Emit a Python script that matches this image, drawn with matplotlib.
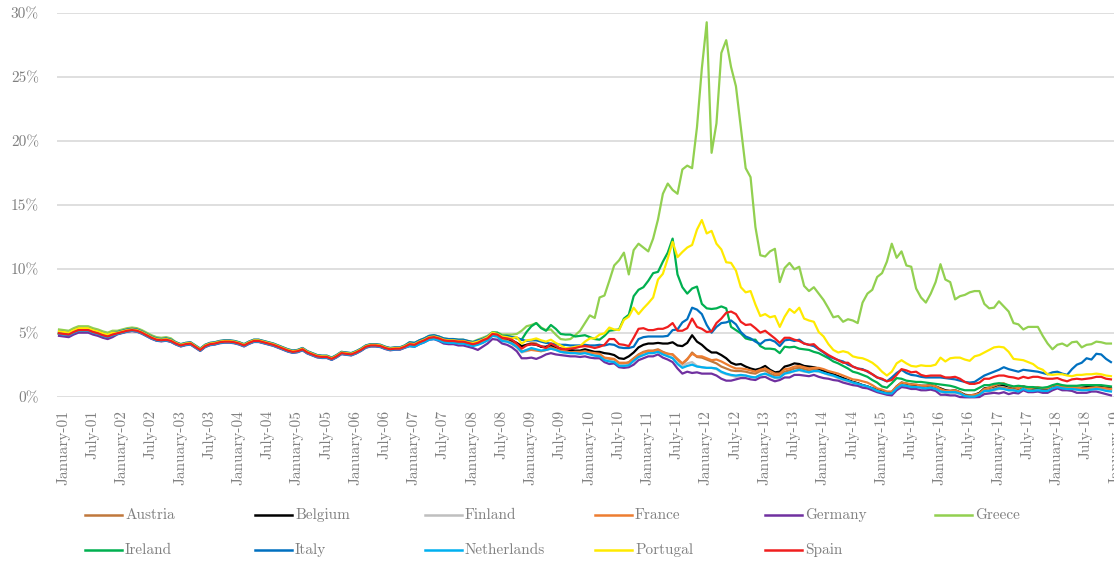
import matplotlib
matplotlib.use("Agg")
import matplotlib.pyplot as plt
from matplotlib.lines import Line2D
from matplotlib.ticker import FuncFormatter
from matplotlib.transforms import ScaledTranslation

plt.rcParams['font.family'] = ['cmr10', 'DejaVu Serif']
plt.rcParams['mathtext.fontset'] = 'cm'
plt.rcParams['axes.formatter.use_mathtext'] = True

# 10-year government bond yields, %, monthly from January 2001 (one row per year)
austria = [
    5.00, 4.95, 4.90, 5.10, 5.25, 5.25, 5.25, 5.10, 5.00, 4.85, 4.75, 4.90,
    5.00, 5.10, 5.20, 5.25, 5.20, 5.05, 4.85, 4.65, 4.50, 4.45, 4.50, 4.40,
    4.20, 4.05, 4.15, 4.20, 3.95, 3.70, 4.00, 4.15, 4.20, 4.30, 4.35, 4.35,
    4.30, 4.20, 4.05, 4.25, 4.40, 4.40, 4.30, 4.20, 4.10, 3.95, 3.80, 3.65,
    3.55, 3.60, 3.75, 3.50, 3.35, 3.20, 3.15, 3.15, 3.00, 3.20, 3.45, 3.40,
    3.35, 3.50, 3.70, 3.95, 4.05, 4.05, 4.00, 3.85, 3.75, 3.80, 3.80, 3.95,
    4.15, 4.10, 4.30, 4.45, 4.65, 4.70, 4.60, 4.45, 4.40, 4.40, 4.35, 4.35,
    4.25, 4.15, 4.25, 4.45, 4.60, 4.95, 4.90, 4.55, 4.50, 4.35, 4.15, 3.85,
    4.10, 4.25, 4.20, 3.95, 3.85, 3.95, 3.85, 3.75, 3.70, 3.60, 3.60, 3.55,
    3.60, 3.50, 3.40, 3.35, 3.05, 3.00, 2.95, 2.60, 2.60, 2.75, 3.05, 3.35,
    3.55, 3.65, 3.65, 3.75, 3.55, 3.40, 3.35, 2.95, 2.60, 2.95, 3.50, 3.15,
    3.10, 2.95, 2.80, 2.65, 2.40, 2.25, 2.10, 2.05, 2.05, 2.00, 1.90, 1.85,
    2.05, 2.10, 1.85, 1.70, 1.75, 2.00, 2.10, 2.25, 2.30, 2.20, 2.10, 2.15,
    2.10, 2.00, 1.85, 1.75, 1.60, 1.45, 1.30, 1.20, 1.10, 0.95, 0.85, 0.70,
    0.55, 0.40, 0.30, 0.30, 0.70, 1.00, 0.95, 0.85, 0.85, 0.80, 0.75, 0.80,
    0.70, 0.55, 0.40, 0.40, 0.45, 0.30, 0.10, 0.05, 0.10, 0.25, 0.55, 0.55,
    0.65, 0.80, 0.75, 0.65, 0.65, 0.55, 0.70, 0.60, 0.60, 0.65, 0.60, 0.55,
    0.75, 0.85, 0.70, 0.65, 0.70, 0.65, 0.65, 0.65, 0.70, 0.75, 0.70, 0.60,
    0.55,
]
belgium = [
    5.00, 4.95, 4.90, 5.10, 5.25, 5.25, 5.25, 5.10, 5.00, 4.85, 4.75, 4.90,
    5.00, 5.10, 5.20, 5.25, 5.20, 5.05, 4.85, 4.65, 4.50, 4.45, 4.50, 4.40,
    4.20, 4.05, 4.15, 4.20, 3.95, 3.70, 4.00, 4.15, 4.20, 4.30, 4.35, 4.35,
    4.30, 4.20, 4.05, 4.25, 4.40, 4.40, 4.30, 4.20, 4.10, 3.95, 3.80, 3.65,
    3.55, 3.60, 3.75, 3.50, 3.35, 3.20, 3.15, 3.15, 3.00, 3.20, 3.45, 3.40,
    3.35, 3.50, 3.70, 3.95, 4.05, 4.05, 4.00, 3.85, 3.75, 3.80, 3.80, 3.95,
    4.20, 4.15, 4.35, 4.50, 4.70, 4.75, 4.65, 4.50, 4.45, 4.45, 4.40, 4.40,
    4.30, 4.20, 4.30, 4.45, 4.65, 4.95, 4.90, 4.65, 4.60, 4.45, 4.25, 4.00,
    4.10, 4.15, 4.10, 3.95, 3.95, 4.10, 3.95, 3.80, 3.75, 3.70, 3.65, 3.65,
    3.75, 3.65, 3.55, 3.55, 3.45, 3.40, 3.30, 3.05, 3.00, 3.20, 3.50, 3.90,
    4.10, 4.20, 4.20, 4.25, 4.20, 4.20, 4.30, 4.05, 4.00, 4.25, 4.85, 4.35,
    4.10, 3.75, 3.50, 3.50, 3.30, 3.05, 2.70, 2.55, 2.60, 2.40, 2.25, 2.15,
    2.25, 2.45, 2.15, 1.95, 2.00, 2.40, 2.50, 2.65, 2.60, 2.45, 2.40, 2.35,
    2.25, 2.05, 1.95, 1.80, 1.65, 1.50, 1.35, 1.20, 1.10, 0.95, 0.85, 0.70,
    0.60, 0.50, 0.35, 0.40, 0.85, 1.15, 1.05, 1.00, 0.95, 0.90, 0.90, 0.95,
    0.85, 0.70, 0.55, 0.50, 0.55, 0.40, 0.20, 0.15, 0.20, 0.35, 0.70, 0.75,
    0.85, 1.00, 0.95, 0.85, 0.80, 0.70, 0.85, 0.75, 0.70, 0.70, 0.65, 0.60,
    0.80, 0.95, 0.85, 0.80, 0.80, 0.75, 0.75, 0.80, 0.80, 0.85, 0.80, 0.75,
    0.70,
]
finland = [
    4.95, 4.90, 4.85, 5.05, 5.20, 5.20, 5.20, 5.05, 4.95, 4.80, 4.70, 4.85,
    4.95, 5.05, 5.15, 5.20, 5.15, 5.00, 4.80, 4.60, 4.45, 4.40, 4.45, 4.35,
    4.15, 4.00, 4.10, 4.15, 3.90, 3.65, 3.95, 4.10, 4.15, 4.25, 4.30, 4.30,
    4.25, 4.15, 4.00, 4.20, 4.35, 4.35, 4.25, 4.15, 4.05, 3.90, 3.75, 3.60,
    3.50, 3.55, 3.70, 3.45, 3.30, 3.15, 3.10, 3.10, 2.95, 3.15, 3.40, 3.35,
    3.30, 3.45, 3.65, 3.90, 4.00, 4.00, 3.95, 3.80, 3.70, 3.75, 3.75, 3.90,
    4.05, 4.00, 4.20, 4.35, 4.55, 4.60, 4.50, 4.35, 4.30, 4.30, 4.25, 4.25,
    4.15, 4.05, 4.15, 4.25, 4.45, 4.80, 4.75, 4.40, 4.35, 4.15, 3.90, 3.50,
    3.60, 3.75, 3.70, 3.60, 3.70, 3.80, 3.70, 3.55, 3.45, 3.45, 3.45, 3.40,
    3.50, 3.40, 3.30, 3.30, 2.95, 2.85, 2.80, 2.50, 2.50, 2.55, 2.85, 3.15,
    3.30, 3.45, 3.45, 3.60, 3.40, 3.25, 3.10, 2.70, 2.45, 2.65, 2.75, 2.45,
    2.35, 2.30, 2.30, 2.20, 1.95, 1.80, 1.70, 1.60, 1.65, 1.70, 1.60, 1.55,
    1.75, 1.85, 1.65, 1.50, 1.55, 1.85, 1.90, 2.05, 2.10, 2.00, 1.95, 2.05,
    2.00, 1.90, 1.75, 1.65, 1.50, 1.35, 1.25, 1.15, 1.05, 0.90, 0.80, 0.65,
    0.50, 0.35, 0.25, 0.25, 0.65, 0.95, 0.90, 0.80, 0.80, 0.75, 0.70, 0.75,
    0.65, 0.45, 0.35, 0.35, 0.35, 0.25, 0.05, 0.02, 0.05, 0.15, 0.45, 0.45,
    0.55, 0.65, 0.65, 0.55, 0.55, 0.45, 0.65, 0.50, 0.50, 0.55, 0.50, 0.50,
    0.70, 0.80, 0.70, 0.65, 0.65, 0.60, 0.60, 0.60, 0.65, 0.70, 0.65, 0.55,
    0.50,
]
france = [
    4.95, 4.90, 4.85, 5.05, 5.20, 5.20, 5.20, 5.05, 4.95, 4.80, 4.70, 4.85,
    4.95, 5.05, 5.15, 5.20, 5.15, 5.00, 4.80, 4.60, 4.45, 4.40, 4.45, 4.35,
    4.15, 4.00, 4.10, 4.15, 3.90, 3.65, 3.95, 4.10, 4.15, 4.25, 4.30, 4.30,
    4.25, 4.15, 4.00, 4.20, 4.35, 4.35, 4.25, 4.15, 4.05, 3.90, 3.75, 3.60,
    3.50, 3.55, 3.70, 3.45, 3.30, 3.15, 3.10, 3.10, 2.95, 3.15, 3.40, 3.35,
    3.30, 3.45, 3.65, 3.90, 4.00, 4.00, 3.95, 3.80, 3.70, 3.75, 3.75, 3.90,
    4.10, 4.05, 4.25, 4.40, 4.60, 4.65, 4.55, 4.40, 4.35, 4.35, 4.30, 4.30,
    4.20, 4.10, 4.20, 4.30, 4.50, 4.85, 4.80, 4.45, 4.40, 4.20, 3.95, 3.60,
    3.65, 3.70, 3.65, 3.60, 3.70, 3.85, 3.75, 3.65, 3.60, 3.50, 3.55, 3.55,
    3.60, 3.50, 3.45, 3.40, 3.10, 3.05, 3.00, 2.70, 2.70, 2.70, 3.00, 3.30,
    3.50, 3.60, 3.60, 3.70, 3.50, 3.40, 3.35, 3.00, 2.65, 3.00, 3.40, 3.20,
    3.20, 3.05, 2.90, 2.95, 2.80, 2.60, 2.40, 2.25, 2.25, 2.20, 2.10, 2.00,
    2.15, 2.25, 2.05, 1.85, 1.85, 2.20, 2.25, 2.40, 2.45, 2.35, 2.25, 2.30,
    2.30, 2.20, 2.05, 1.95, 1.85, 1.70, 1.55, 1.40, 1.35, 1.25, 1.15, 0.95,
    0.70, 0.60, 0.45, 0.45, 0.85, 1.15, 1.10, 1.00, 1.00, 0.90, 0.90, 0.95,
    0.85, 0.65, 0.50, 0.50, 0.55, 0.40, 0.15, 0.15, 0.20, 0.30, 0.65, 0.75,
    0.90, 1.05, 1.10, 0.90, 0.80, 0.70, 0.85, 0.70, 0.75, 0.80, 0.70, 0.70,
    0.90, 0.95, 0.80, 0.80, 0.80, 0.75, 0.70, 0.70, 0.75, 0.80, 0.75, 0.70,
    0.65,
]
germany = [
    4.80, 4.75, 4.70, 4.90, 5.05, 5.05, 5.05, 4.90, 4.80, 4.65, 4.55, 4.70,
    4.92, 5.02, 5.12, 5.17, 5.12, 4.97, 4.77, 4.57, 4.42, 4.37, 4.42, 4.32,
    4.12, 3.97, 4.07, 4.12, 3.87, 3.62, 3.92, 4.07, 4.12, 4.22, 4.27, 4.27,
    4.22, 4.12, 3.97, 4.17, 4.32, 4.32, 4.22, 4.12, 4.02, 3.87, 3.72, 3.57,
    3.47, 3.52, 3.67, 3.42, 3.27, 3.12, 3.07, 3.07, 2.92, 3.12, 3.37, 3.32,
    3.27, 3.42, 3.62, 3.87, 3.97, 3.97, 3.92, 3.77, 3.67, 3.72, 3.72, 3.87,
    4.00, 3.95, 4.15, 4.30, 4.50, 4.55, 4.40, 4.20, 4.15, 4.15, 4.05, 4.05,
    3.95, 3.85, 3.70, 3.95, 4.20, 4.55, 4.50, 4.20, 4.10, 3.90, 3.60, 3.05,
    3.05, 3.10, 3.00, 3.15, 3.35, 3.45, 3.35, 3.30, 3.25, 3.20, 3.20, 3.15,
    3.20, 3.10, 3.05, 3.05, 2.75, 2.60, 2.65, 2.35, 2.30, 2.35, 2.55, 2.90,
    3.05, 3.20, 3.20, 3.35, 3.10, 2.95, 2.75, 2.25, 1.85, 2.00, 1.90, 1.95,
    1.85, 1.85, 1.85, 1.70, 1.45, 1.30, 1.30, 1.40, 1.50, 1.50, 1.40, 1.35,
    1.55, 1.60, 1.40, 1.25, 1.35, 1.55, 1.55, 1.75, 1.75, 1.70, 1.65, 1.75,
    1.60, 1.50, 1.45, 1.35, 1.30, 1.15, 1.05, 0.95, 0.90, 0.75, 0.70, 0.55,
    0.40, 0.30, 0.20, 0.15, 0.55, 0.80, 0.75, 0.65, 0.65, 0.55, 0.55, 0.60,
    0.50, 0.20, 0.20, 0.15, 0.15, 0.02, 0.00, 0.00, 0.00, 0.02, 0.25, 0.30,
    0.35, 0.30, 0.40, 0.25, 0.35, 0.30, 0.55, 0.40, 0.40, 0.45, 0.35, 0.35,
    0.55, 0.70, 0.55, 0.55, 0.50, 0.35, 0.35, 0.35, 0.45, 0.45, 0.35, 0.25,
    0.15,
]
greece = [
    5.30, 5.25, 5.20, 5.40, 5.55, 5.55, 5.55, 5.40, 5.30, 5.15, 5.05, 5.20,
    5.20, 5.30, 5.40, 5.45, 5.40, 5.25, 5.05, 4.85, 4.70, 4.65, 4.70, 4.60,
    4.30, 4.15, 4.25, 4.30, 4.05, 3.80, 4.10, 4.25, 4.30, 4.40, 4.45, 4.45,
    4.40, 4.30, 4.15, 4.35, 4.50, 4.50, 4.40, 4.30, 4.20, 4.05, 3.90, 3.75,
    3.65, 3.70, 3.85, 3.60, 3.45, 3.30, 3.25, 3.25, 3.10, 3.30, 3.55, 3.50,
    3.45, 3.60, 3.80, 4.05, 4.15, 4.15, 4.10, 3.95, 3.85, 3.90, 3.90, 4.05,
    4.30, 4.25, 4.45, 4.60, 4.80, 4.85, 4.75, 4.60, 4.55, 4.55, 4.50, 4.50,
    4.40, 4.35, 4.50, 4.65, 4.80, 5.10, 5.05, 4.90, 4.90, 4.90, 4.95, 5.20,
    5.55, 5.65, 5.80, 5.45, 5.25, 5.30, 4.90, 4.55, 4.50, 4.55, 4.85, 5.20,
    5.80, 6.40, 6.20, 7.80, 7.95, 9.10, 10.30, 10.70, 11.30, 9.60, 11.50, 12.00,
    11.70, 11.40, 12.40, 13.90, 15.90, 16.70, 16.20, 15.90, 17.80, 18.10, 17.90, 21.10,
    25.70, 29.30, 19.10, 21.40, 26.90, 27.90, 25.80, 24.30, 21.10, 17.90, 17.20, 13.30,
    11.10, 11.00, 11.40, 11.60, 9.00, 10.10, 10.50, 10.00, 10.20, 8.70, 8.30, 8.60,
    8.10, 7.60, 6.95, 6.25, 6.35, 5.90, 6.10, 6.00, 5.80, 7.40, 8.10, 8.40,
    9.40, 9.70, 10.60, 12.00, 10.90, 11.40, 10.30, 10.20, 8.50, 7.80, 7.40, 8.10,
    9.00, 10.40, 9.20, 9.00, 7.65, 7.90, 8.00, 8.20, 8.30, 8.30, 7.30, 6.95,
    7.00, 7.50, 7.10, 6.70, 5.80, 5.70, 5.30, 5.50, 5.50, 5.50, 4.80, 4.20,
    3.75, 4.10, 4.20, 4.00, 4.30, 4.35, 3.90, 4.10, 4.15, 4.35, 4.30, 4.20,
    4.20,
]
ireland = [
    5.00, 4.95, 4.90, 5.10, 5.25, 5.25, 5.25, 5.10, 5.00, 4.85, 4.75, 4.90,
    5.00, 5.10, 5.20, 5.25, 5.20, 5.05, 4.85, 4.65, 4.50, 4.45, 4.50, 4.40,
    4.20, 4.05, 4.15, 4.20, 3.95, 3.70, 4.00, 4.15, 4.20, 4.30, 4.35, 4.35,
    4.30, 4.20, 4.05, 4.25, 4.40, 4.40, 4.30, 4.20, 4.10, 3.95, 3.80, 3.65,
    3.55, 3.60, 3.75, 3.50, 3.35, 3.20, 3.15, 3.15, 3.00, 3.20, 3.45, 3.40,
    3.35, 3.50, 3.70, 3.95, 4.05, 4.05, 4.00, 3.85, 3.75, 3.80, 3.80, 3.95,
    4.15, 4.10, 4.30, 4.45, 4.65, 4.70, 4.60, 4.45, 4.40, 4.40, 4.35, 4.35,
    4.25, 4.15, 4.25, 4.55, 4.70, 5.05, 5.05, 4.80, 4.80, 4.70, 4.60, 4.50,
    5.10, 5.55, 5.80, 5.40, 5.20, 5.65, 5.35, 4.95, 4.90, 4.90, 4.75, 4.80,
    4.85, 4.70, 4.55, 4.50, 4.80, 5.20, 5.25, 5.30, 6.15, 6.45, 7.90, 8.40,
    8.60, 9.10, 9.70, 9.80, 10.60, 11.30, 12.40, 9.60, 8.60, 8.10, 8.50, 8.65,
    7.30, 6.95, 6.90, 6.95, 7.10, 6.95, 5.50, 5.25, 5.00, 4.60, 4.50, 4.50,
    4.00, 3.80, 3.80, 3.75, 3.45, 3.95, 3.90, 3.95, 3.80, 3.75, 3.70, 3.55,
    3.45, 3.25, 3.05, 2.80, 2.65, 2.45, 2.25, 2.00, 1.90, 1.75, 1.60, 1.35,
    1.15, 0.85, 0.75, 1.10, 1.50, 1.45, 1.30, 1.25, 1.20, 1.20, 1.15, 1.10,
    1.05, 1.00, 0.95, 0.90, 0.80, 0.65, 0.55, 0.55, 0.55, 0.75, 0.95, 0.95,
    1.05, 1.10, 1.05, 0.95, 0.85, 0.90, 0.85, 0.80, 0.80, 0.75, 0.75, 0.80,
    0.95, 1.05, 0.95, 0.90, 0.90, 0.90, 0.95, 0.95, 0.95, 0.95, 0.95, 0.90,
    0.85,
]
italy = [
    5.15, 5.10, 5.05, 5.25, 5.40, 5.40, 5.40, 5.25, 5.15, 5.00, 4.90, 5.05,
    5.10, 5.20, 5.30, 5.35, 5.30, 5.15, 4.95, 4.75, 4.60, 4.55, 4.60, 4.50,
    4.30, 4.15, 4.25, 4.30, 4.05, 3.80, 4.10, 4.25, 4.30, 4.40, 4.45, 4.45,
    4.40, 4.30, 4.15, 4.35, 4.50, 4.50, 4.40, 4.30, 4.20, 4.05, 3.90, 3.75,
    3.65, 3.70, 3.85, 3.60, 3.45, 3.30, 3.25, 3.25, 3.10, 3.30, 3.55, 3.50,
    3.45, 3.60, 3.80, 4.05, 4.15, 4.15, 4.10, 3.95, 3.85, 3.90, 3.90, 4.05,
    4.30, 4.25, 4.45, 4.60, 4.80, 4.85, 4.75, 4.60, 4.55, 4.55, 4.50, 4.50,
    4.40, 4.30, 4.45, 4.55, 4.75, 5.05, 4.95, 4.75, 4.75, 4.70, 4.65, 4.50,
    4.40, 4.45, 4.45, 4.35, 4.25, 4.20, 4.15, 4.10, 4.10, 4.05, 4.05, 4.05,
    4.10, 4.05, 4.05, 4.10, 4.05, 4.15, 4.10, 3.90, 3.85, 3.85, 3.95, 4.55,
    4.70, 4.75, 4.75, 4.75, 4.75, 4.80, 5.25, 5.30, 5.85, 6.10, 7.00, 6.85,
    6.50, 5.65, 5.05, 5.50, 5.80, 5.85, 6.00, 5.70, 5.10, 4.75, 4.60, 4.35,
    4.15, 4.45, 4.50, 4.35, 4.00, 4.45, 4.50, 4.40, 4.50, 4.20, 4.10, 4.00,
    3.75, 3.50, 3.20, 3.05, 2.90, 2.80, 2.55, 2.40, 2.25, 2.20, 2.00, 1.80,
    1.55, 1.40, 1.25, 1.55, 1.90, 2.15, 1.90, 1.75, 1.70, 1.60, 1.55, 1.55,
    1.55, 1.55, 1.50, 1.45, 1.40, 1.30, 1.20, 1.15, 1.20, 1.45, 1.70, 1.85,
    2.00, 2.15, 2.35, 2.20, 2.10, 2.00, 2.15, 2.10, 2.05, 2.00, 1.90, 1.80,
    1.95, 2.00, 1.85, 1.75, 2.20, 2.55, 2.70, 3.05, 2.95, 3.40, 3.35, 3.00,
    2.75,
]
netherlands = [
    4.95, 4.90, 4.85, 5.05, 5.20, 5.20, 5.20, 5.05, 4.95, 4.80, 4.70, 4.85,
    4.95, 5.05, 5.15, 5.20, 5.15, 5.00, 4.80, 4.60, 4.45, 4.40, 4.45, 4.35,
    4.15, 4.00, 4.10, 4.15, 3.90, 3.65, 3.95, 4.10, 4.15, 4.25, 4.30, 4.30,
    4.25, 4.15, 4.00, 4.20, 4.35, 4.35, 4.25, 4.15, 4.05, 3.90, 3.75, 3.60,
    3.50, 3.55, 3.70, 3.45, 3.30, 3.15, 3.10, 3.10, 2.95, 3.15, 3.40, 3.35,
    3.30, 3.45, 3.65, 3.90, 4.00, 4.00, 3.95, 3.80, 3.70, 3.75, 3.75, 3.90,
    4.00, 3.95, 4.15, 4.30, 4.50, 4.55, 4.45, 4.30, 4.25, 4.25, 4.20, 4.20,
    4.10, 4.00, 4.10, 4.25, 4.45, 4.80, 4.75, 4.40, 4.35, 4.20, 3.95, 3.55,
    3.70, 3.85, 3.75, 3.65, 3.70, 3.80, 3.70, 3.55, 3.50, 3.45, 3.45, 3.40,
    3.45, 3.35, 3.25, 3.20, 2.90, 2.80, 2.75, 2.45, 2.45, 2.50, 2.85, 3.15,
    3.30, 3.45, 3.45, 3.55, 3.35, 3.20, 3.05, 2.60, 2.30, 2.45, 2.55, 2.40,
    2.35, 2.30, 2.30, 2.25, 2.00, 1.85, 1.75, 1.70, 1.75, 1.70, 1.60, 1.55,
    1.75, 1.85, 1.70, 1.55, 1.55, 1.85, 1.95, 2.05, 2.15, 2.05, 1.95, 2.05,
    2.05, 1.90, 1.80, 1.70, 1.55, 1.40, 1.30, 1.15, 1.05, 0.95, 0.85, 0.70,
    0.50, 0.40, 0.30, 0.30, 0.70, 0.95, 0.90, 0.80, 0.80, 0.75, 0.70, 0.75,
    0.65, 0.45, 0.40, 0.40, 0.40, 0.30, 0.10, 0.05, 0.05, 0.20, 0.50, 0.50,
    0.60, 0.70, 0.65, 0.55, 0.55, 0.45, 0.65, 0.50, 0.50, 0.55, 0.50, 0.50,
    0.70, 0.80, 0.70, 0.65, 0.65, 0.60, 0.55, 0.55, 0.60, 0.65, 0.60, 0.50,
    0.45,
]
portugal = [
    5.15, 5.10, 5.05, 5.25, 5.40, 5.40, 5.40, 5.25, 5.15, 5.00, 4.90, 5.05,
    5.05, 5.15, 5.25, 5.30, 5.25, 5.10, 4.90, 4.70, 4.55, 4.50, 4.55, 4.45,
    4.25, 4.10, 4.20, 4.25, 4.00, 3.75, 4.05, 4.20, 4.25, 4.35, 4.40, 4.40,
    4.35, 4.25, 4.10, 4.30, 4.45, 4.45, 4.35, 4.25, 4.15, 4.00, 3.85, 3.70,
    3.60, 3.65, 3.80, 3.55, 3.40, 3.25, 3.20, 3.20, 3.05, 3.25, 3.50, 3.45,
    3.40, 3.55, 3.75, 4.00, 4.10, 4.10, 4.05, 3.90, 3.80, 3.85, 3.85, 4.00,
    4.20, 4.15, 4.35, 4.50, 4.70, 4.75, 4.65, 4.50, 4.45, 4.45, 4.40, 4.40,
    4.30, 4.25, 4.35, 4.50, 4.70, 5.05, 4.95, 4.75, 4.70, 4.60, 4.70, 4.20,
    4.45, 4.50, 4.60, 4.45, 4.35, 4.50, 4.25, 4.05, 3.85, 3.85, 3.95, 4.00,
    4.35, 4.60, 4.60, 4.90, 5.00, 5.45, 5.30, 5.25, 6.05, 6.30, 7.00, 6.50,
    6.95, 7.35, 7.80, 9.20, 9.65, 10.85, 12.15, 10.95, 11.35, 11.70, 11.90, 13.10,
    13.85, 12.80, 13.00, 12.00, 11.55, 10.55, 10.50, 9.90, 8.60, 8.20, 8.30, 7.25,
    6.35, 6.50, 6.25, 6.35, 5.50, 6.30, 6.90, 6.60, 7.00, 6.15, 6.00, 5.90,
    5.10, 4.75, 4.15, 3.70, 3.50, 3.60, 3.50, 3.20, 3.10, 3.05, 2.90, 2.70,
    2.40, 2.00, 1.70, 2.00, 2.65, 2.90, 2.65, 2.45, 2.40, 2.50, 2.45, 2.45,
    2.55, 3.10, 2.80, 3.05, 3.10, 3.10, 2.95, 2.85, 3.20, 3.30, 3.50, 3.70,
    3.90, 3.95, 3.90, 3.55, 3.00, 2.95, 2.90, 2.75, 2.60, 2.30, 2.15, 1.80,
    1.75, 1.80, 1.80, 1.70, 1.65, 1.75, 1.75, 1.80, 1.80, 1.85, 1.80, 1.70,
    1.65,
]
spain = [
    5.00, 4.95, 4.90, 5.10, 5.25, 5.25, 5.25, 5.10, 5.00, 4.85, 4.75, 4.90,
    5.00, 5.10, 5.20, 5.25, 5.20, 5.05, 4.85, 4.65, 4.50, 4.45, 4.50, 4.40,
    4.20, 4.05, 4.15, 4.20, 3.95, 3.70, 4.00, 4.15, 4.20, 4.30, 4.35, 4.35,
    4.30, 4.20, 4.05, 4.25, 4.40, 4.40, 4.30, 4.20, 4.10, 3.95, 3.80, 3.65,
    3.55, 3.60, 3.75, 3.50, 3.35, 3.20, 3.15, 3.15, 3.00, 3.20, 3.45, 3.40,
    3.35, 3.50, 3.70, 3.95, 4.05, 4.05, 4.00, 3.85, 3.75, 3.80, 3.80, 3.95,
    4.15, 4.10, 4.30, 4.45, 4.65, 4.70, 4.60, 4.45, 4.40, 4.40, 4.35, 4.35,
    4.25, 4.15, 4.25, 4.45, 4.60, 4.95, 4.90, 4.65, 4.60, 4.50, 4.20, 3.80,
    4.05, 4.15, 4.10, 4.00, 3.85, 4.20, 4.00, 3.80, 3.75, 3.80, 3.85, 3.95,
    4.00, 3.95, 3.85, 3.95, 4.10, 4.55, 4.55, 4.15, 4.10, 4.00, 4.65, 5.35,
    5.40, 5.25, 5.25, 5.35, 5.35, 5.50, 5.80, 5.20, 5.20, 5.40, 6.15, 5.50,
    5.35, 5.10, 5.15, 5.80, 6.15, 6.60, 6.70, 6.50, 5.90, 5.65, 5.70, 5.40,
    5.05, 5.20, 4.90, 4.60, 4.25, 4.65, 4.65, 4.50, 4.40, 4.20, 4.10, 4.15,
    3.80, 3.55, 3.30, 3.10, 2.90, 2.70, 2.70, 2.40, 2.25, 2.15, 2.05, 1.80,
    1.55, 1.45, 1.25, 1.35, 1.75, 2.20, 2.10, 1.95, 2.00, 1.75, 1.65, 1.70,
    1.70, 1.70, 1.55, 1.55, 1.60, 1.45, 1.20, 1.05, 1.05, 1.15, 1.45, 1.45,
    1.60, 1.70, 1.70, 1.60, 1.55, 1.45, 1.60, 1.50, 1.60, 1.60, 1.50, 1.45,
    1.45, 1.50, 1.35, 1.25, 1.40, 1.45, 1.40, 1.45, 1.50, 1.60, 1.60, 1.45,
    1.40,
]

countries = ["Austria", "Belgium", "Finland", "France", "Germany", "Greece",
             "Ireland", "Italy", "Netherlands", "Portugal", "Spain"]
series = [austria, belgium, finland, france, germany, greece,
          ireland, italy, netherlands, portugal, spain]
colors = ["#c0783c", "#000000", "#bfbfbf", "#ed7d31", "#7030a0", "#92d050",
          "#00b050", "#0070c0", "#00b0f0", "#ffea00", "#f01e1e"]

tick_pos = list(range(0, 217, 6))
tick_labels = [f"{m}-{y:02d}" for y in range(1, 20) for m in ("January", "July")][:len(tick_pos)]
y_ticks = [0, 5, 10, 15, 20, 25, 30]

W, H = 1114, 563
grey = "#808080"

fig = plt.figure(figsize=(W / 100, H / 100), dpi=100)
ax = fig.add_axes([57 / W, 165.7 / H, (W - 57) / W, 384 / H])

for vals, c in zip(series, colors):
    ax.plot(range(len(vals)), vals, color=c, lw=1.6, clip_on=False, solid_joinstyle="round")

ax.set_xlim(-0.41, 216.63)
ax.set_ylim(0, 30)
ax.set_yticks(y_ticks)
ax.yaxis.set_major_formatter(FuncFormatter(lambda v, p: f"{v:.0f}%"))
ax.set_xticks(tick_pos)
ax.set_xticklabels(tick_labels, rotation=90)
ax.yaxis.grid(True, color="#d9d9d9", lw=1.2)
ax.set_axisbelow(True)
for s in ax.spines.values():
    s.set_visible(False)
ax.tick_params(axis="both", length=0, colors=grey, labelsize=11)
ax.tick_params(axis="y", pad=13)
ax.tick_params(axis="x", pad=9)

# the category labels sit a few pixels right of the points, as in the original
shift = ScaledTranslation(4 / 100, 0, fig.dpi_scale_trans)
for lbl in ax.get_xticklabels():
    lbl.set_transform(lbl.get_transform() + shift)

# legend, two rows of six entries
for k, (name, c) in enumerate(zip(countries, colors)):
    x0 = 85 + 170 * (k % 6)
    y0 = 515 + 35 * (k // 6)
    fig.add_artist(Line2D([x0 / W, (x0 + 37) / W], [1 - y0 / H, 1 - y0 / H],
                          color=c, lw=1.8, transform=fig.transFigure))
    fig.text((x0 + 40) / W, 1 - y0 / H, name, color=grey, fontsize=11,
             va="center", ha="left")

fig.savefig("out.png", dpi=100)
